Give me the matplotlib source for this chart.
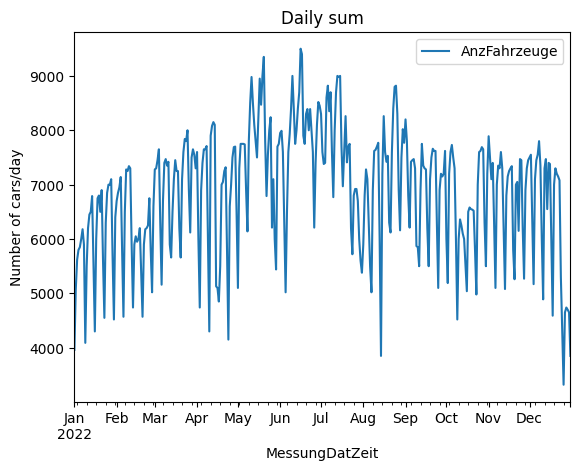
import pandas as pd
import matplotlib
matplotlib.use('Agg')
import matplotlib.pyplot as plt

# daily totals per month
jan = [3960, 5070, 5620, 5800, 5850, 6000, 6180, 5900, 4090, 5500, 6200, 6450, 6500, 6790, 5500, 4300,
       6000, 6750, 6800, 6500, 6900, 5600, 4550, 6300, 6850, 7000, 7000, 7100, 5700, 4520, 6400]
feb = [6700, 6850, 6950, 7140, 5800, 4570, 6500, 7280, 7250, 7340, 7300, 5900, 4740, 5900, 6050, 5950,
       6000, 6200, 5400, 4570, 5900, 6180, 6200, 6250, 6750, 5800, 5020, 6600]
mar = [7280, 7300, 7450, 7650, 6300, 5160, 6700, 7400, 7470, 7350, 7420, 5900, 5660, 6500, 7100, 7450,
       7250, 7250, 6200, 5660, 7100, 7600, 7840, 7800, 8000, 6900, 6120, 7500, 7650, 7550, 7300]
apr = [7600, 6000, 4740, 6900, 7400, 7650, 7650, 7710, 6000, 4300, 7900, 8080, 8150, 8100, 5130, 5100,
       4850, 5500, 7000, 7050, 7250, 7320, 5800, 4150, 6600, 7000, 7500, 7690, 7700, 6500]
may = [5100, 7300, 7750, 7750, 7750, 7740, 6900, 6140, 7800, 8500, 8980, 8500, 8100, 7800, 7500, 8200,
       8950, 8470, 9000, 9350, 7800, 6790, 7550, 8000, 8240, 6210, 7100, 6000, 5440, 7700, 7750]
jun = [7950, 7990, 7600, 6300, 5020, 6500, 7600, 7930, 8400, 9000, 8400, 7750, 8000, 8400, 8700, 9500,
       9400, 7900, 7750, 8300, 8390, 8000, 8390, 8000, 7600, 6210, 7400, 8100, 8520, 8450]
jul = [8300, 7600, 7380, 7400, 8600, 8820, 8350, 8700, 7600, 6770, 8000, 8700, 9000, 8980, 9000, 7700,
       6970, 7600, 8260, 7410, 7700, 7750, 6200, 5720, 6800, 6920, 6920, 6700, 6000, 5600, 5380]
aug = [5900, 6800, 7280, 7100, 6300, 5500, 5020, 6900, 7620, 7640, 7700, 7770, 6000, 3850, 7200, 8260,
       7600, 7420, 7530, 6300, 6120, 7600, 8400, 8800, 8820, 8300, 6900, 6160, 7500, 8020, 7770]
sep = [8200, 7800, 6800, 6210, 7420, 7450, 7470, 7300, 5870, 5850, 5500, 6900, 7750, 7350, 7300, 7280,
       6200, 5500, 7100, 7500, 7660, 7620, 7620, 6300, 5100, 6900, 7200, 7150, 7200, 7620]
oct_ = [6000, 5190, 7200, 7600, 7730, 7500, 7300, 6000, 4520, 6000, 6360, 6250, 6100, 6000, 5500, 5040,
        6500, 6580, 6550, 6540, 6520, 5800, 4980, 7000, 7600, 7620, 7690, 7650, 6300, 5500, 7200]
nov = [7890, 7500, 7100, 7400, 6300, 5100, 7000, 7350, 7300, 7600, 7300, 6200, 5080, 6800, 7150, 7250,
       7300, 7340, 5800, 5260, 7000, 7050, 6150, 7470, 7450, 6200, 5270, 6900, 7300, 7450]
dec = [7500, 7550, 6400, 5170, 7100, 7450, 7550, 7800, 7350, 6000, 4890, 7300, 7470, 6550, 7400, 7380,
       6000, 4590, 7000, 7300, 7200, 7150, 7080, 5300, 4300, 3320, 4650, 4740, 4700, 4650, 3850]

werte = jan + feb + mar + apr + may + jun + jul + aug + sep + oct_ + nov + dec
tage = pd.date_range('2022-01-01', periods=len(werte), freq='D', name='MessungDatZeit')
df = pd.DataFrame({'AnzFahrzeuge': werte}, index=tage)

fig, ax = plt.subplots(figsize=(6.4, 4.8), dpi=100)
df.plot(ax=ax, title='Daily sum')
ax.set_ylabel('Number of cars/day')

plt.savefig('out.png', dpi=100, bbox_inches='tight')
